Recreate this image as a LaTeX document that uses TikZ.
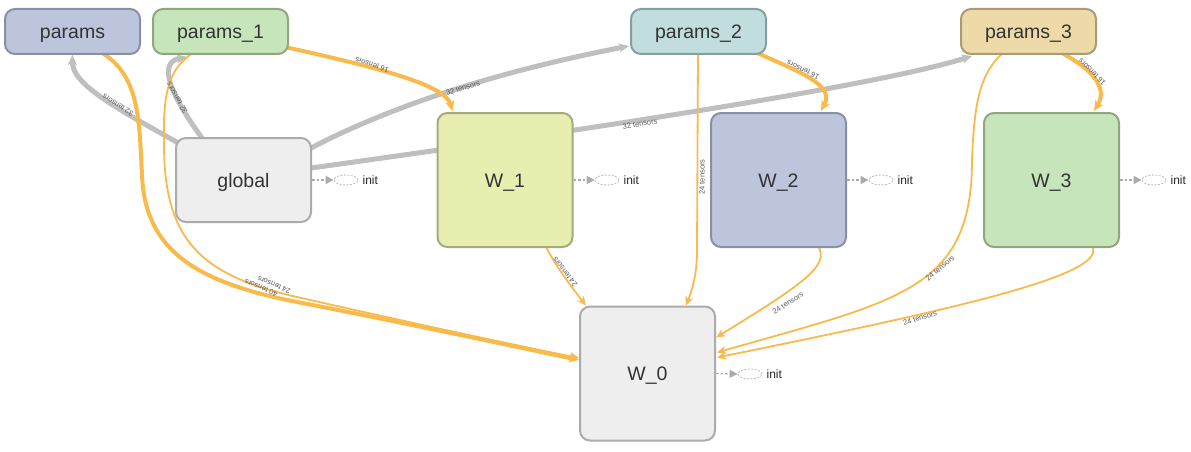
\documentclass[tikz,border=0pt]{standalone}
\usepackage{fontspec}
\setmainfont{Liberation Sans}
\usetikzlibrary{arrows.meta,shapes.geometric,calc}
\pgfdeclarelayer{bg}
\pgfsetlayers{bg,main}
\definecolor{edgeor}{HTML}{F9BA4C}
\definecolor{edgegr}{HTML}{BFBFBF}
\definecolor{txt}{HTML}{333333}
\definecolor{labtxt}{HTML}{5A5A5A}
\definecolor{blueF}{HTML}{BDC5DD}\definecolor{blueD}{HTML}{8990A3}
\definecolor{greenF}{HTML}{C7E5BA}\definecolor{greenD}{HTML}{8FA680}
\definecolor{tealF}{HTML}{C1DDDD}\definecolor{tealD}{HTML}{879E9E}
\definecolor{sandF}{HTML}{EDDAA8}\definecolor{sandD}{HTML}{AA9B76}
\definecolor{greyF}{HTML}{EEEEEE}\definecolor{greyD}{HTML}{ABABAB}
\definecolor{limeF}{HTML}{E8EDB0}\definecolor{limeD}{HTML}{A5AA7E}
\definecolor{initc}{HTML}{AAAAAA}
\tikzset{
  opbox/.style={draw, rounded corners=10pt, line width=2pt, text=txt,
    font=\fontsize{19.5}{22}\selectfont, text height=14pt, text depth=0pt,
    minimum width=135pt, inner sep=0pt},
  pbox/.style={opbox, minimum height=45pt},
  gbox/.style={opbox, minimum height=84pt},
  wbox/.style={opbox, minimum height=134pt},
  gedge/.style={draw=edgegr, line width=5pt, -{Stealth[length=10pt,width=9pt,inset=2.5pt]}},
  oedgeT/.style={draw=edgeor, line width=4pt, -{Stealth[length=10pt,width=9pt,inset=2.5pt]}},
  oedge/.style={draw=edgeor, line width=1.8pt, -{Stealth[length=9pt,width=8pt,inset=2.5pt]}},
  elabel/.style={font=\fontsize{7.5}{8}\selectfont, text=labtxt, inner sep=0pt},
  initell/.style={ellipse, draw=initc!80, dash pattern=on 2pt off 1.5pt, line width=0.8pt,
    minimum width=24pt, minimum height=10pt, inner sep=0pt},
  initarr/.style={draw=initc, line width=1.2pt, dash pattern=on 2.5pt off 2pt,
    -{Triangle[length=8pt,width=8pt]}},
  inittxt/.style={font=\fontsize{12}{14}\selectfont, text=black!85, inner sep=0pt, anchor=west}
}
\begin{document}
\begin{tikzpicture}[x=1pt,y=-1pt]
\useasboundingbox (0,0) rectangle (1191,452);
% nodes
\node[pbox, fill=blueF, draw=blueD] (params) at (72.5,31.5) {params};
\node[pbox, fill=greenF, draw=greenD] (params_1) at (220.5,31.5) {params\_1};
\node[pbox, fill=tealF, draw=tealD] (params_2) at (698.5,31.5) {params\_2};
\node[pbox, fill=sandF, draw=sandD] (params_3) at (1028.5,31.5) {params\_3};
\node[gbox, fill=greyF, draw=greyD] (global) at (243.5,180) {global};
\node[wbox, fill=limeF, draw=limeD] (W_1) at (505,180) {W\_1};
\node[wbox, fill=blueF, draw=blueD] (W_2) at (778.5,180) {W\_2};
\node[wbox, fill=greenF, draw=greenD] (W_3) at (1051.5,180) {W\_3};
\node[wbox, fill=greyF, draw=greyD] (W_0) at (647.5,373.5) {W\_0};
% init markers
\node[initell] (ig) at (346,180) {};
\node[inittxt] (igt) at ([xshift=4pt]ig.east) {init};
\node[initell] (i1) at (607,180) {};
\node[inittxt] (i1t) at ([xshift=4pt]i1.east) {init};
\node[initell] (i2) at (881,180) {};
\node[inittxt] (i2t) at ([xshift=4pt]i2.east) {init};
\node[initell] (i3) at (1154,180) {};
\node[inittxt] (i3t) at ([xshift=4pt]i3.east) {init};
\node[initell] (i0) at (750,374) {};
\node[inittxt] (i0t) at ([xshift=4pt]i0.east) {init};
\draw[initarr] (global.east) -- (ig.west);
\draw[initarr] (W_1.east) -- (i1.west);
\draw[initarr] (W_2.east) -- (i2.west);
\draw[initarr] (W_3.east) -- (i3.west);
\draw[initarr] (W_0.east) -- (i0.west);
% edges
\begin{pgfonlayer}{bg}
\draw[gedge] ($(global.north west)+(5,7)$) .. controls (120,110) and (72,85) .. (params.south);
\draw[gedge] ($(global.north)+(-40,3)$) .. controls (168,92) and (158,62) .. ($(params_1.south)+(-33.5,2)$);
\draw[gedge] ($(global.north east)+(-1,11)$) .. controls (380,112) and (480,75) .. ($(params_2.west)+(-1,14.5)$);
\draw[gedge] ($(global.east)+(-1,-12)$) .. controls (600,128) and (880,85) .. ($(params_3.south west)+(12,1)$);
\draw[oedgeT] ($(params_1.south east)+(-4,-8)$) .. controls (380,68) and (445,85) .. ($(W_1.north west)+(16,-1)$);
\draw[oedgeT] ($(params_2.south east)+(-12,-3)$) .. controls (800,72) and (835,85) .. ($(W_2.north west)+(111,-1)$);
\draw[oedgeT] ($(params_3.south east)+(-37,-3)$) .. controls (1085,65) and (1110,85) .. ($(W_3.north west)+(111,-1)$);
\draw[oedge] ($(params_1.south)+(-26,-3)$) .. controls (168,68) and (163,95) .. (164,140)
   .. controls (163,240) and (200,275) .. (297,297)
   .. controls (350,309) and (470,336) .. ($(W_0.west)+(0,-15.5)$);
\draw[oedgeT] ($(params.south)+(28,-3)$) .. controls (140,75) and (139,120) .. (142,175)
   .. controls (145,250) and (195,282) .. (297,302)
   .. controls (380,318) and (480,339) .. ($(W_0.west)+(0,-13.5)$);
\draw[oedge] ($(W_1.south west)+(109,-2)$) .. controls (555,265) and (570,285) .. ($(W_0.north west)+(7,0)$);
\draw[oedge] ($(params_2.south)+(-0.5,-2)$) -- (697,250) .. controls (697,275) and (692,290) .. ($(W_0.north west)+(107,0)$);
\draw[oedge] ($(W_2.south west)+(108,-2)$) .. controls (830,265) and (805,283) .. ($(W_0.north east)+(0,32)$);
\draw[oedge] ($(params_3.south west)+(42,-1)$) .. controls (978,75) and (974,110) .. (972,160)
   .. controls (972,290) and (900,300) .. ($(W_0.north east)+(1,47)$);
\draw[oedge] ($(W_3.south west)+(109,-2)$) .. controls (1110,275) and (950,310) .. ($(W_0.north east)+(1,52)$);
\end{pgfonlayer}
% edge labels
\node[elabel, rotate=148] (l1) at (118,105) {32 tensors};
\node[elabel, rotate=121] (l2) at (177,98) {32 tensors};
\node[elabel, rotate=17] (l3) at (463,88) {32 tensors};
\node[elabel, rotate=10] (l4) at (640,124) {32 tensors};
\node[elabel, rotate=161] (l5) at (372,65) {16 tensors};
\node[elabel, rotate=154] (l6) at (803,70) {16 tensors};
\node[elabel, rotate=135] (l7) at (1092,72) {16 tensors};
\node[elabel, rotate=157] (l8) at (261,288) {40 tensors};
\node[elabel, rotate=157] (l9) at (274,285) {24 tensors};
\node[elabel, rotate=128] (l10) at (565,272) {24 tensors};
\node[elabel, rotate=90] (l11) at (702,177) {24 tensors};
\node[elabel, rotate=33] (l12) at (788,303) {24 tensors};
\node[elabel, rotate=40] (l13) at (940,268) {24 tensors};
\node[elabel, rotate=17.6] (l14) at (920,318) {24 tensors};
\end{tikzpicture}
\end{document}
